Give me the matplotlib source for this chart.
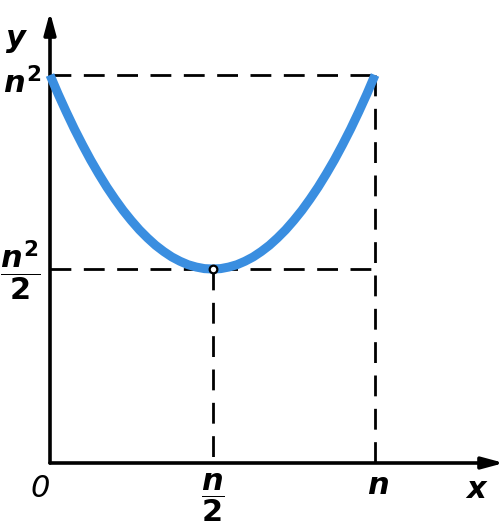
import matplotlib
matplotlib.use("Agg")
import matplotlib.pyplot as plt

# curve y = x^2 + (n-x)^2 with n = 1
x_vals = [0.0, 0.025, 0.05, 0.075, 0.1, 0.125, 0.15, 0.175, 0.2, 0.225, 0.25,
          0.275, 0.3, 0.325, 0.35, 0.375, 0.4, 0.425, 0.45, 0.475, 0.5,
          0.525, 0.55, 0.575, 0.6, 0.625, 0.65, 0.675, 0.7, 0.725, 0.75,
          0.775, 0.8, 0.825, 0.85, 0.875, 0.9, 0.925, 0.95, 0.975, 1.0]
y_vals = [1.0, 0.951, 0.905, 0.861, 0.82, 0.781, 0.745, 0.711, 0.68, 0.651, 0.625,
          0.601, 0.58, 0.561, 0.545, 0.531, 0.52, 0.511, 0.505, 0.501, 0.5,
          0.501, 0.505, 0.511, 0.52, 0.531, 0.545, 0.561, 0.58, 0.601, 0.625,
          0.651, 0.68, 0.711, 0.745, 0.781, 0.82, 0.861, 0.905, 0.951, 1.0]
x_ticks = [0.0, 0.5, 1.0]
x_tick_labels = ["0", r"$\dfrac{n}{2}$", r"$n$"]
y_ticks = [1.0, 0.5]
y_tick_labels = [r"$n^2$", r"$\dfrac{n^2}{2}$"]
min_point = (0.5, 0.5)

plt.rcParams["mathtext.fontset"] = "custom"
plt.rcParams["mathtext.it"] = "DejaVu Sans:italic:bold"
plt.rcParams["mathtext.rm"] = "DejaVu Sans:bold"
plt.rcParams["mathtext.bf"] = "DejaVu Sans:bold"

fig = plt.figure(figsize=(5.04, 5.32), dpi=100)
ax = fig.add_axes([0, 0, 1, 1])
ax.set_xlim(-50 / 325, 454 / 325)
ax.set_ylim(-69 / 388, 463 / 388)
ax.axis("off")

# axes with arrows
ax.annotate("", xy=(454 / 325, 0), xytext=(0, 0),
            arrowprops=dict(arrowstyle="-|>,head_length=1.3,head_width=0.35",
                            lw=2.6, color="black", shrinkA=0, shrinkB=0))
ax.annotate("", xy=(0, 451 / 388), xytext=(0, 0),
            arrowprops=dict(arrowstyle="-|>,head_length=1.3,head_width=0.35",
                            lw=2.6, color="black", shrinkA=0, shrinkB=0))

dash = (0, (7.5, 4.5))
# dashed guide lines
ax.plot([0, x_ticks[2]], [y_ticks[0], y_ticks[0]], color="black", lw=2, linestyle=dash)
ax.plot([x_ticks[2], x_ticks[2]], [y_ticks[0], 0], color="black", lw=2, linestyle=dash)
ax.plot([0, x_ticks[2]], [y_ticks[1], y_ticks[1]], color="black", lw=2, linestyle=dash)
ax.plot([x_ticks[1], x_ticks[1]], [y_ticks[1], 0], color="black", lw=2, linestyle=dash)

# curve
ax.plot(x_vals, y_vals, color="#3a8ee0", lw=6.5, solid_capstyle="butt",
        solid_joinstyle="round", zorder=3)
ax.plot([min_point[0]], [min_point[1]], marker="o", ms=5.5, mfc="white",
        mec="black", mew=1.6, zorder=4)

fs = 22
# x tick labels
ax.text(x_ticks[0] - 0.03, -0.065, x_tick_labels[0], fontsize=fs, ha="center", va="center",
        style="italic", family="DejaVu Sans")
ax.text(x_ticks[1], -0.09, x_tick_labels[1], fontsize=fs, ha="center", va="center")
ax.text(x_ticks[2] + 0.008, -0.058, x_tick_labels[2], fontsize=fs, ha="center", va="center")
ax.text(427 / 325, -0.068, r"$x$", fontsize=fs, ha="center", va="center")
# y tick labels
ax.text(-28 / 325, y_ticks[0] - 0.02, y_tick_labels[0], fontsize=fs, ha="center", va="center")
ax.text(-30 / 325, y_ticks[1] - 0.005, y_tick_labels[1], fontsize=fs, ha="center", va="center")
ax.text(-34 / 325, 423 / 388, r"$y$", fontsize=fs, ha="center", va="center")

fig.savefig("out.png", dpi=100, facecolor="white")
